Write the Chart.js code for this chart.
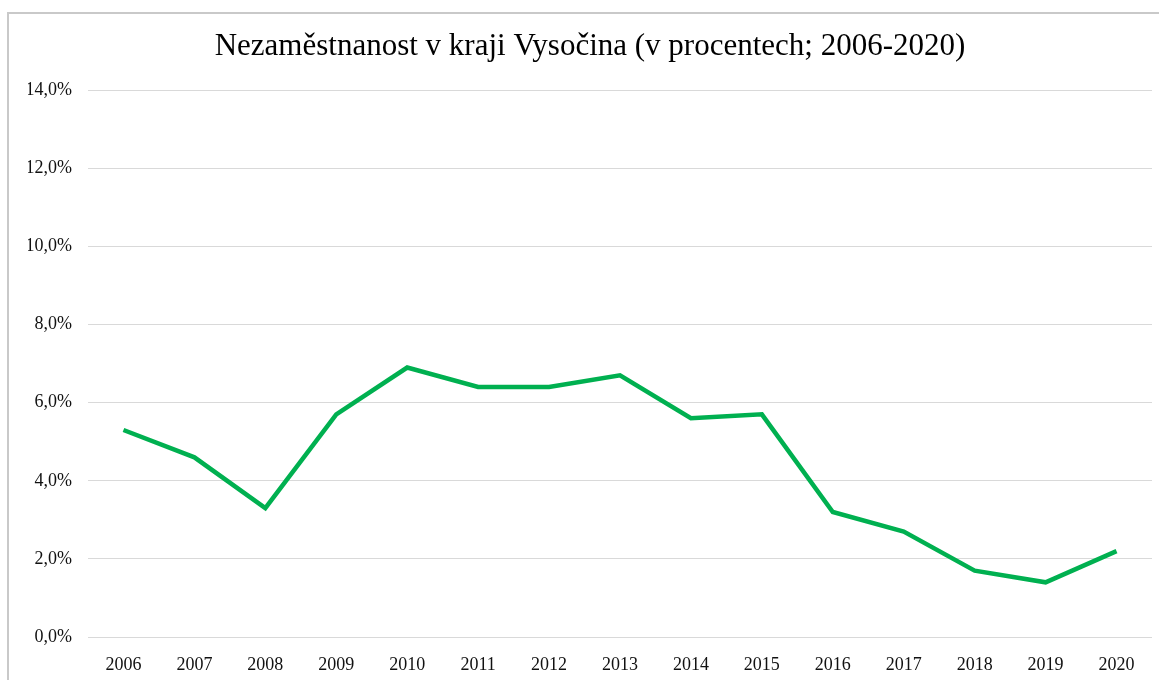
<!DOCTYPE html>
<html>
<head>
<meta charset="utf-8">
<script src="https://cdn.jsdelivr.net/npm/chart.js@4/dist/chart.umd.min.js"></script>
<style>
  body { margin: 0; background: #fff; overflow: hidden; }
  #frame { position: absolute; left: 7px; top: 12px; width: 1200px; height: 720px;
           border-left: 2px solid #c9c9c9; border-top: 2px solid #c9c9c9; }
  #wrap { position: absolute; left: 0; top: 0; width: 1159px; height: 680px; }
</style>
</head>
<body>
<div id="frame"></div>
<div id="wrap"><canvas id="unemp"></canvas></div>
<script>
// Nezaměstnanost v kraji Vysočina, 2006-2020 (v %)
const years = ["2006","2007","2008","2009","2010","2011","2012","2013","2014","2015","2016","2017","2018","2019","2020"];
const rates = [5.3, 4.6, 3.3, 5.7, 6.9, 6.4, 6.4, 6.7, 5.6, 5.7, 3.2, 2.7, 1.7, 1.4, 2.2];
const yTicks = [0, 2, 4, 6, 8, 10, 12, 14];

const serif = "'Liberation Serif', 'Times New Roman', serif";

new Chart(document.getElementById("unemp"), {
  type: 'line',
  data: {
    labels: years,
    datasets: [{
      label: "Nezaměstnanost",
      data: rates,
      borderColor: "#00b050",
      borderWidth: 4.5,
      pointRadius: 0,
      tension: 0,
      fill: false
    }]
  },
  options: {
    responsive: true,
    maintainAspectRatio: false,
    animation: false,
    layout: { padding: { top: 28, right: 7, bottom: 0, left: 28 } },
    plugins: {
      legend: { display: false },
      tooltip: { enabled: false },
      title: {
        display: true,
        text: "Nezaměstnanost v kraji Vysočina (v procentech; 2006-2020)",
        color: "#000",
        font: { family: serif, size: 31, weight: 'normal' },
        padding: { top: 0, bottom: 25 }
      }
    },
    scales: {
      x: {
        offset: true,
        grid: { display: false },
        border: { display: false },
        ticks: { color: "#111", font: { family: serif, size: 18 }, padding: 9, maxRotation: 0 },
        afterFit: function(s) { s.height = 43; }
      },
      y: {
        min: 0,
        max: 14,
        afterBuildTicks: function(s) { s.ticks = yTicks.map(v => ({ value: v })); },
        grid: { color: "#d9d9d9", lineWidth: 1, drawTicks: false },
        border: { display: false },
        ticks: {
          color: "#111",
          font: { family: serif, size: 18 },
          padding: 16,
          callback: v => v.toFixed(1).replace('.', ',') + '%'
        },
        afterFit: function(s) { s.width = 60; }
      }
    }
  }
});
</script>
</body>
</html>
